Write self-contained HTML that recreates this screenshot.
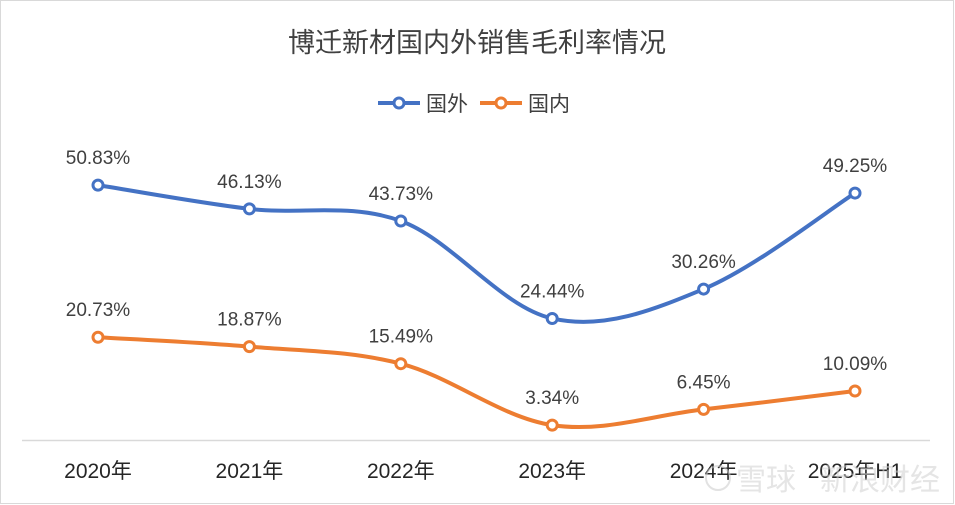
<!DOCTYPE html>
<html><head><meta charset="utf-8">
<style>
html,body{margin:0;padding:0;background:#fff;}
#wrap{position:relative;width:955px;height:505px;overflow:hidden;}
svg{display:block;font-family:"Liberation Sans","Noto Sans CJK SC",sans-serif;}
</style></head>
<body>
<div id="wrap">
<svg id="chart" width="955" height="505">
  <rect x="0.5" y="0.5" width="953" height="503" fill="#fff" stroke="#d9d9d9"/>
  <text x="477" y="52" text-anchor="middle" font-size="27" fill="#404040">博迁新材国内外销售毛利率情况</text>
  <g>
    <g>
      <line x1="378" y1="103" x2="420" y2="103" stroke="#4472C4" stroke-width="4"/>
      <circle cx="399" cy="103" r="5" fill="#fff" stroke="#4472C4" stroke-width="3"/>
      <text x="426" y="111" font-size="21" fill="#404040">国外</text>
    </g>
    <g>
      <line x1="480" y1="103" x2="522" y2="103" stroke="#ED7D31" stroke-width="4"/>
      <circle cx="501" cy="103" r="5" fill="#fff" stroke="#ED7D31" stroke-width="3"/>
      <text x="528" y="111" font-size="21" fill="#404040">国内</text>
    </g>
  </g>
  <line x1="22" y1="440.5" x2="930" y2="440.5" stroke="#d9d9d9" stroke-width="1.5"/>
  <g id="xlabels"></g>
  <g id="series"></g>
  <g opacity="0.55">
    <circle cx="718" cy="478" r="12" fill="none" stroke="#ccc" stroke-width="2"/>
    <text x="736" y="490" font-size="30" fill="#d0d0d0">雪球</text>
    <text x="820" y="490" font-size="30" fill="#d0d0d0">新浪财经</text>
  </g>
</svg>
</div>
<script>
const categories = ["2020年","2021年","2022年","2023年","2024年","2025年H1"];
const overseasValues = [50.83,46.13,43.73,24.44,30.26,49.25];
const domesticValues = [20.73,18.87,15.49,3.34,6.45,10.09];
const NS="http://www.w3.org/2000/svg";
function xPos(i){return 98+i*151.4;}
function yPos(v){return 442-v*5.054;}
const xl=document.getElementById('xlabels');
categories.forEach((c,i)=>{
  const t=document.createElementNS(NS,'text');
  
  
  t.setAttribute('x',xPos(i));t.setAttribute('y',478);
  t.setAttribute('text-anchor','middle');t.setAttribute('font-size','21');t.setAttribute('fill','#262626');
  t.textContent=c;xl.appendChild(t);
});
function smoothPath(pts){
  let d=`M${pts[0][0]},${pts[0][1]}`;
  for(let i=0;i<pts.length-1;i++){
    const p0=pts[i-1]||pts[i],p1=pts[i],p2=pts[i+1],p3=pts[i+2]||p2;
    const t=0.17*1.0;
    const c1=[p1[0]+(p2[0]-p0[0])*t,p1[1]+(p2[1]-p0[1])*t];
    const c2=[p2[0]-(p3[0]-p1[0])*t,p2[1]-(p3[1]-p1[1])*t];
    d+=` C${c1[0]},${c1[1]} ${c2[0]},${c2[1]} ${p2[0]},${p2[1]}`;
  }
  return d;
}
const sg=document.getElementById('series');
function drawSeries(vals,color,name){
  const g=document.createElementNS(NS,'g');
  
  
  const pts=vals.map((v,i)=>[xPos(i),yPos(v)]);
  const p=document.createElementNS(NS,'path');
  
  
  p.setAttribute('d',smoothPath(pts));p.setAttribute('fill','none');
  p.setAttribute('stroke',color);p.setAttribute('stroke-width','4');
  g.appendChild(p);
  vals.forEach((v,i)=>{
    const c=document.createElementNS(NS,'circle');
    
    
    c.setAttribute('cx',pts[i][0]);c.setAttribute('cy',pts[i][1]);c.setAttribute('r','5');
    c.setAttribute('fill','#fff');c.setAttribute('stroke',color);c.setAttribute('stroke-width','3');
    g.appendChild(c);
    const t=document.createElementNS(NS,'text');
    
    
    t.setAttribute('x',pts[i][0]);t.setAttribute('y',pts[i][1]-21);
    t.setAttribute('text-anchor','middle');t.setAttribute('font-size','19');t.setAttribute('fill','#404040');
    t.textContent=v.toFixed(2)+'%';
    g.appendChild(t);
  });
  sg.appendChild(g);
}
drawSeries(overseasValues,'#4472C4','overseas-series');
drawSeries(domesticValues,'#ED7D31','domestic-series');
</script>
</body></html>
